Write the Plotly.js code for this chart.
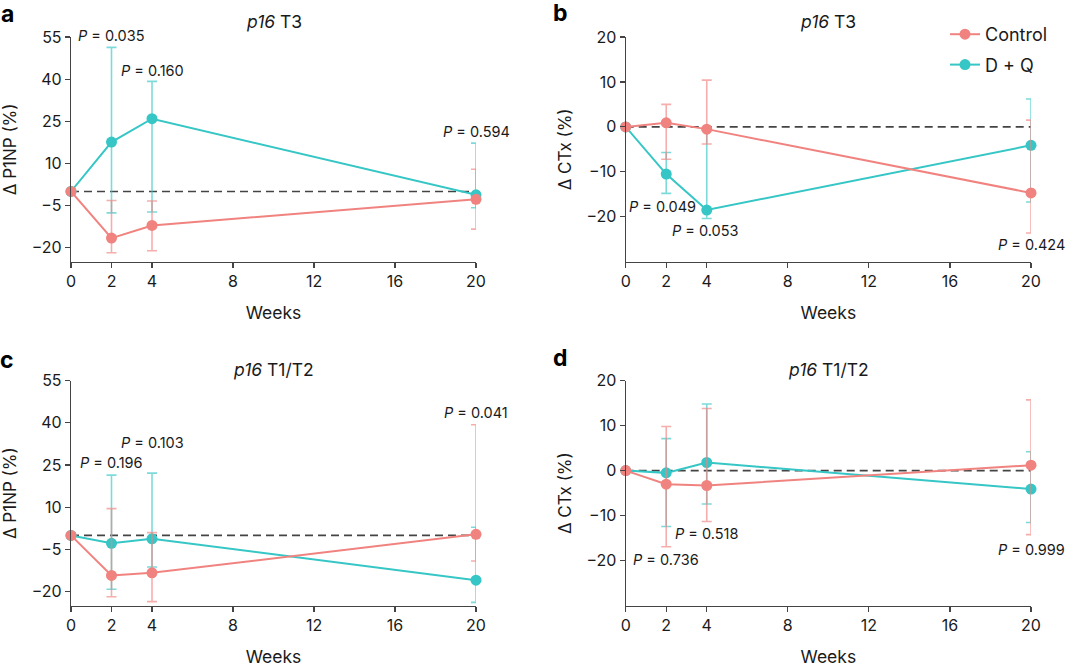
<!DOCTYPE html>
<html>
<head>
<meta charset="utf-8">
<script src="https://cdn.plot.ly/plotly-3.0.1.min.js"></script>
<style>html,body{margin:0;padding:0;background:#fff;}#chart{width:1080px;height:667px;}</style>
</head>
<body>
<div id="chart"></div>
<script>
// ---- data ----
const weeks = [0, 2, 4, 20];
const xTickVals = [0, 2, 4, 8, 12, 16, 20];
const p1npTickVals = [-20, -5, 10, 25, 40, 55];
const ctxTickVals = [-20, -10, 0, 10, 20];

// Panel a: P1NP, p16 T3
const aCtrl   = [0, -16.6, -12.1, -2.8];
const aCtrlHi = [null, -3.2, -3.4, 7.9];
const aCtrlLo = [null, -21.8, -21.1, -13.4];
const aDQ     = [0, 17.6, 25.9, -1.2];
const aDQHi   = [null, 51.3, 39.2, 17.2];
const aDQLo   = [null, -7.6, -7.3, -5.8];
const aP      = ["0.035", "0.160", "0.594"];

// Panel b: CTx, p16 T3
const bCtrl   = [0, 0.9, -0.5, -14.7];
const bCtrlHi = [null, 5.0, 10.4, 1.5];
const bCtrlLo = [null, -7.2, -3.8, -23.6];
const bDQ     = [0, -10.5, -18.5, -4.1];
const bDQHi   = [null, -5.7, -0.8, 6.2];
const bDQLo   = [null, -14.8, -20.4, -16.7];
const bP      = ["0.049", "0.053", "0.424"];

// Panel c: P1NP, p16 T1/T2
const cCtrl   = [0, -14.2, -13.3, 0.4];
const cCtrlHi = [null, 9.5, 1.0, 39.3];
const cCtrlLo = [null, -21.8, -23.5, -9.1];
const cDQ     = [0, -2.8, -1.2, -15.9];
const cDQHi   = [null, 21.4, 22.1, 2.9];
const cDQLo   = [null, -19.1, -11.2, -23.8];
const cP      = ["0.196", "0.103", "0.041"];

// Panel d: CTx, p16 T1/T2
const dCtrl   = [0, -3.0, -3.3, 1.2];
const dCtrlHi = [null, 9.8, 13.8, 15.7];
const dCtrlLo = [null, -16.9, -11.3, -14.2];
const dDQ     = [0, -0.5, 1.8, -4.1];
const dDQHi   = [null, 7.1, 14.8, 4.2];
const dDQLo   = [null, -12.4, -7.4, -11.5];
const dP      = ["0.736", "0.518", "0.999"];

const seriesNames = ["Control", "D + Q"];
const panelLetters = ["a", "b", "c", "d"];
const panelTitles = ["<i>p16</i> T3", "<i>p16</i> T3", "<i>p16</i> T1/T2", "<i>p16</i> T1/T2"];
const yTitles = ["Δ P1NP (%)", "Δ CTx (%)", "Δ P1NP (%)", "Δ CTx (%)"];
const xTitle = "Weeks";

// ---- styles ----
const FONT = "Inter, 'Noto Sans', sans-serif";
const PINK = "#F0837F";
const PINK_ERR = "rgba(240,131,127,0.65)";
const TEAL = "#36C6C6";
const TEAL_ERR = "rgba(54,198,198,0.65)";
const AXIS = "#444";
const TXT = "#1a1a1a";

function errs(mean, hi, lo) {
  const plus = mean.map((m, i) => hi[i] == null ? NaN : hi[i] - m);
  const minus = mean.map((m, i) => lo[i] == null ? NaN : m - lo[i]);
  return {plus, minus};
}

function series(name, mean, hi, lo, color, errColor, xa, ya, showlegend, rank) {
  const e = errs(mean, hi, lo);
  return {
    type: "scatter", mode: "lines+markers", name: name, legendgroup: name,
    x: weeks, y: mean, xaxis: xa, yaxis: ya,
    showlegend: showlegend, legendrank: rank, cliponaxis: false,
    line: {color: color, width: 2},
    marker: {color: color, size: 11},
    error_y: {type: "data", symmetric: false, array: e.plus, arrayminus: e.minus,
              color: errColor, thickness: 1.6, width: 5}
  };
}

const panels = [
  {xa: "x",  ya: "y",  ctrl: [aCtrl, aCtrlHi, aCtrlLo], dq: [aDQ, aDQHi, aDQLo]},
  {xa: "x2", ya: "y2", ctrl: [bCtrl, bCtrlHi, bCtrlLo], dq: [bDQ, bDQHi, bDQLo]},
  {xa: "x3", ya: "y3", ctrl: [cCtrl, cCtrlHi, cCtrlLo], dq: [cDQ, cDQHi, cDQLo]},
  {xa: "x4", ya: "y4", ctrl: [dCtrl, dCtrlHi, dCtrlLo], dq: [dDQ, dDQHi, dDQLo]}
];

const traces = [];
panels.forEach((p, i) => {
  // zero reference line
  traces.push({type: "scatter", mode: "lines", x: [weeks[0], weeks[weeks.length - 1]], y: [0, 0],
    xaxis: p.xa, yaxis: p.ya, showlegend: false, hoverinfo: "skip",
    line: {color: AXIS, width: 1.6, dash: "8px,5px"}});
  traces.push(series(seriesNames[1], p.dq[0], p.dq[1], p.dq[2], TEAL, TEAL_ERR, p.xa, p.ya, i === 1, 2));
  traces.push(series(seriesNames[0], p.ctrl[0], p.ctrl[1], p.ctrl[2], PINK, PINK_ERR, p.xa, p.ya, i === 1, 1));
});

// ---- layout ----
const W = 1080, H = 667;
const colDom = [[71 / W, 476 / W], [625.7 / W, 1031 / W]];
const rowDom = [[1 - 261.7 / H, 1 - 37 / H], [1 - 605.8 / H, 1 - 380.5 / H]];

function xaxis(col, row, anchor) {
  return {
    domain: colDom[col], anchor: anchor, range: [0, 20],
    tickmode: "array", tickvals: xTickVals, ticks: "outside", ticklen: 5, tickwidth: 1.2, tickcolor: AXIS,
    showline: true, linecolor: AXIS, linewidth: 1.2, showgrid: false, zeroline: false,
    tickfont: {family: FONT, size: 16, color: TXT},
    title: {text: xTitle, font: {family: FONT, size: 17.5, color: TXT}, standoff: 16}
  };
}
function yaxis(col, row, anchor, kind, idx) {
  const p1np = kind === "p1np";
  return {
    domain: rowDom[row], anchor: anchor,
    range: p1np ? [-25, 55] : [-30, 20],
    tickmode: "array", tickvals: p1np ? p1npTickVals : ctxTickVals,
    ticks: "outside", ticklen: 5, tickwidth: 1.2, tickcolor: AXIS,
    showline: true, linecolor: AXIS, linewidth: 1.2, showgrid: false, zeroline: false,
    tickfont: {family: FONT, size: 16, color: TXT},
    title: {text: yTitles[idx], font: {family: FONT, size: 17, color: TXT}, standoff: 10}
  };
}

const annotations = [];
// panel titles and letters
const titleY = [1 - 22 / H, 1 - 369 / H];
const letterPos = [[7, 14], [560, 13], [7, 360], [560, 358]];
for (let i = 0; i < 4; i++) {
  const col = i % 2, row = Math.floor(i / 2);
  annotations.push({xref: "paper", yref: "paper", x: (colDom[col][0] + colDom[col][1]) / 2, y: titleY[row],
    text: panelTitles[i], showarrow: false, xanchor: "center", yanchor: "middle",
    font: {family: FONT, size: 17.5, color: TXT}});
  annotations.push({xref: "paper", yref: "paper", x: letterPos[i][0] / W, y: 1 - letterPos[i][1] / H,
    text: "<b>" + panelLetters[i] + "</b>", showarrow: false, xanchor: "center", yanchor: "middle",
    font: {family: FONT, size: 23, color: "#000"}});
}
// P value labels (positions in data coords of each subplot)
const pLabelPos = [
  [[2, 54.9], [4, 43.2], [20, 21.2]],
  [[1.8, -17.7], [3.96, -23.0], [20, -26.2]],
  [[2, 25.8], [4, 33.1], [20, 43.8]],
  [[2, -19.8], [4, -14.0], [20, -17.4]]
];
const pTexts = [aP, bP, cP, dP];
for (let i = 0; i < 4; i++) {
  pTexts[i].forEach((t, j) => {
    annotations.push({xref: panels[i].xa, yref: panels[i].ya, x: pLabelPos[i][j][0], y: pLabelPos[i][j][1],
      yshift: (i === 0 && j === 0) ? 1.5 : 0,
      text: "<i>P</i> = " + t, showarrow: false, xanchor: "center", yanchor: "middle",
      font: {family: FONT, size: 14.5, color: TXT}});
  });
}

const layout = {
  width: W, height: H, margin: {l: 0, r: 0, t: 0, b: 0},
  paper_bgcolor: "#fff", plot_bgcolor: "#fff",
  font: {family: FONT, color: TXT},
  xaxis: xaxis(0, 0, "y"), yaxis: yaxis(0, 0, "x", "p1np", 0),
  xaxis2: xaxis(1, 0, "y2"), yaxis2: yaxis(1, 0, "x2", "ctx", 1),
  xaxis3: xaxis(0, 1, "y3"), yaxis3: yaxis(0, 1, "x3", "p1np", 2),
  xaxis4: xaxis(1, 1, "y4"), yaxis4: yaxis(1, 1, "x4", "ctx", 3),
  showlegend: true,
  legend: {x: 945 / W, y: 1 - 16 / H, xanchor: "left", yanchor: "top",
    font: {family: FONT, size: 18, color: TXT}, bgcolor: "rgba(0,0,0,0)", tracegroupgap: 4},
  annotations: annotations
};

Plotly.newPlot("chart", traces, layout, {displayModeBar: false, staticPlot: true});
</script>
</body>
</html>
